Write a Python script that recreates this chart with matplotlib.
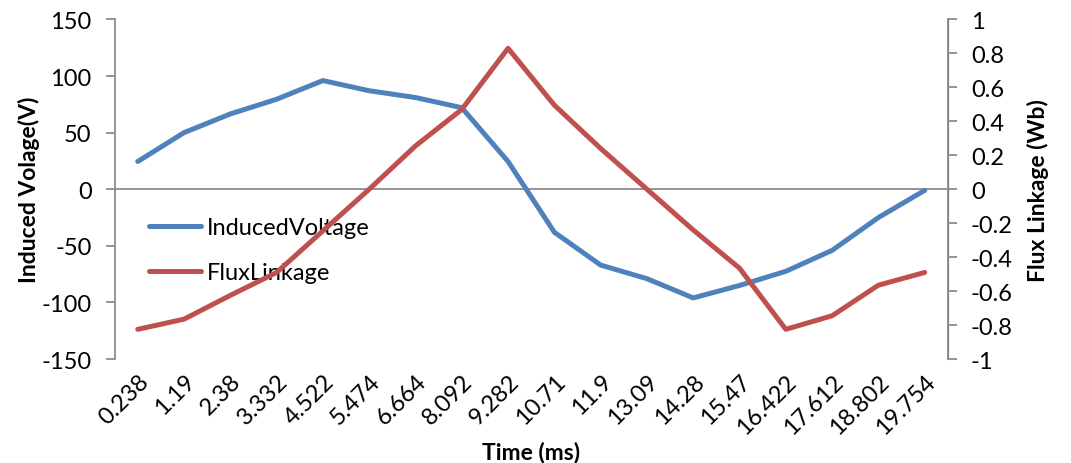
import matplotlib
matplotlib.use("Agg")
import matplotlib.pyplot as plt

plt.rcParams['font.family'] = ['Lato', 'DejaVu Sans']
plt.rcParams['axes.unicode_minus'] = False

time_ms = ["0.238", "1.19", "2.38", "3.332", "4.522", "5.474", "6.664", "8.092", "9.282",
           "10.71", "11.9", "13.09", "14.28", "15.47", "16.422", "17.612", "18.802", "19.754"]
induced_voltage = [24.5, 50, 66.5, 79.5, 96, 87, 81, 72, 24.5,
                   -38, -67, -79, -96, -85, -72.5, -54, -25, -1]
flux_linkage = [-0.825, -0.765, -0.625, -0.49, -0.245, 0.0, 0.255, 0.47, 0.83,
                0.495, 0.24, 0.0, -0.24, -0.465, -0.825, -0.745, -0.565, -0.49]

blue = "#4F81BD"
red = "#C0504D"
grey = "#8C8C8C"

fig = plt.figure(figsize=(10.71, 4.64), dpi=100)
ax = fig.add_axes([0.107, 0.224, 0.778, 0.732])
ax2 = ax.twinx()

x = list(range(len(time_ms)))
l1, = ax.plot(x, induced_voltage, color=blue, lw=3.6, solid_capstyle='round',
              label="InducedVoltage", zorder=3)
l2, = ax2.plot(x, flux_linkage, color=red, lw=3.6, solid_capstyle='round',
               label="FluxLinkage", zorder=3)

ax.set_xlim(-0.5, len(time_ms) - 0.5)
ax.set_ylim(-150, 150)
ax2.set_ylim(-1, 1)
ax.set_yticks(range(-150, 151, 50))
ax2.set_yticks([-1, -0.8, -0.6, -0.4, -0.2, 0, 0.2, 0.4, 0.6, 0.8, 1])
ax2.set_yticklabels(["-1", "-0.8", "-0.6", "-0.4", "-0.2", "0", "0.2", "0.4", "0.6", "0.8", "1"])

ax.axhline(0, color=grey, lw=1.3, zorder=1)

for a in (ax, ax2):
    for s in ("top", "bottom"):
        a.spines[s].set_visible(False)
    a.tick_params(axis='y', colors=grey, length=6.5, width=1.3, labelsize=17,
                  labelcolor='black', pad=10)
ax.spines['left'].set_color(grey)
ax.spines['left'].set_linewidth(1.3)
ax2.spines['right'].set_color(grey)
ax2.spines['right'].set_linewidth(1.3)
ax2.spines['left'].set_visible(False)

ax.set_xticks(x)
ax.set_xticklabels(time_ms, rotation=45, ha='right', rotation_mode='anchor', fontsize=17)
ax.tick_params(axis='x', length=0, pad=8)

ax.set_xlabel("Time (ms)", fontsize=16.5, fontweight='bold', labelpad=2)
ax.set_ylabel("Induced Volage(V)", fontsize=16.5, fontweight='bold', labelpad=1)
ax2.set_ylabel("Flux Linkage (Wb)", fontsize=16.5, fontweight='bold', labelpad=10)

ax.legend(handles=[l1, l2], loc='upper left', bbox_to_anchor=(0.03, 0.445),
          frameon=False, fontsize=17, handlelength=2.2, handletextpad=0.25,
          labelspacing=1.0, borderaxespad=0)

fig.savefig("out.png", dpi=100)
